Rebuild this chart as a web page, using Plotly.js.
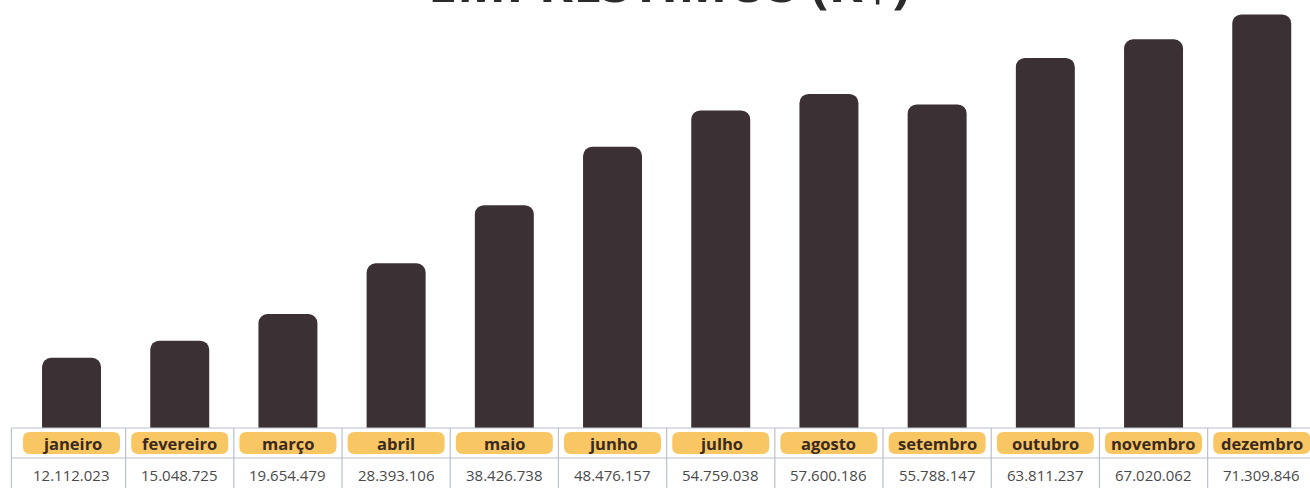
<!DOCTYPE html>
<html>
<head>
<meta charset="utf-8">
<script src="https://cdn.plot.ly/plotly-3.0.1.min.js"></script>
<style>
  html, body { margin: 0; padding: 0; background: #ffffff; }
  #chart { width: 1310px; height: 488px; }
</style>
</head>
<body>
<div id="chart"></div>
<script>
// ---- data ----
var chartTitle = "EMPRÉSTIMOS (R$)";
var months = ["janeiro", "fevereiro", "março", "abril", "maio", "junho",
              "julho", "agosto", "setembro", "outubro", "novembro", "dezembro"];
var loans = [12112023, 15048725, 19654479, 28393106, 38426738, 48476157,
             54759038, 57600186, 55788147, 63811237, 67020062, 71309846];

// ---- helpers ----
function fmtBR(n) {
  var s = String(Math.round(n));
  var out = "";
  while (s.length > 3) {
    out = "." + s.slice(-3) + out;
    s = s.slice(0, -3);
  }
  return s + out;
}

var W = 1310, H = 488, B = 60;
var plotH = H - B;               // plot area height in px
var xr = [-0.661, 11.446];
var pxPerUnit = W / (xr[1] - xr[0]);
function py(px) { return -px / plotH; }   // px below plot bottom -> paper y

var barColor = "#3b3034";
var pillColor = "#f8c662";
var pillText = "#3a2a1f";
var lineColor = "#b9c1cc";

var shapes = [];
var annotations = [];

// table horizontal lines
var xLeft = -0.5 - 6 / pxPerUnit;
[0, py(30)].forEach(function (yy) {
  shapes.push({type: "line", xref: "x", yref: "paper",
    x0: xLeft, x1: xr[1] + 1, y0: yy, y1: yy,
    line: {color: lineColor, width: 1.2}});
});
// table vertical lines
for (var k = 0; k <= months.length; k++) {
  var xv = (k === 0) ? xLeft : k - 0.5;
  shapes.push({type: "line", xref: "x", yref: "paper",
    x0: xv, x1: xv, y0: 0, y1: py(62),
    line: {color: lineColor, width: 1.2}});
}

// pills + labels
var hw = 48.5 / pxPerUnit, rx = 7 / pxPerUnit, ry = 7 / plotH;
var yTop = py(4), yBot = py(26);
months.forEach(function (m, i) {
  var x0 = i - hw, x1 = i + hw;
  var p = "M " + (x0 + rx) + "," + yTop +
          " L " + (x1 - rx) + "," + yTop +
          " Q " + x1 + "," + yTop + " " + x1 + "," + (yTop - ry) +
          " L " + x1 + "," + (yBot + ry) +
          " Q " + x1 + "," + yBot + " " + (x1 - rx) + "," + yBot +
          " L " + (x0 + rx) + "," + yBot +
          " Q " + x0 + "," + yBot + " " + x0 + "," + (yBot + ry) +
          " L " + x0 + "," + (yTop - ry) +
          " Q " + x0 + "," + yTop + " " + (x0 + rx) + "," + yTop + " Z";
  shapes.push({type: "path", xref: "x", yref: "paper", path: p,
    fillcolor: pillColor, line: {width: 0}});
  annotations.push({xref: "x", yref: "paper", x: i, y: py(15),
    xanchor: "center", yanchor: "middle", showarrow: false,
    text: "<b>" + m + "</b>",
    font: {family: "Open Sans, sans-serif", size: 16.5, color: pillText}});
  annotations.push({xref: "x", yref: "paper", x: i, y: py(47),
    xanchor: "center", yanchor: "middle", showarrow: false,
    text: fmtBR(loans[i]),
    font: {family: "Open Sans, sans-serif", size: 15, color: "#4a4a4a"}});
});

// title (partially cropped at top, like the reference)
annotations.push({xref: "paper", yref: "paper", x: 0.511, y: 1 + 18 / plotH,
  xanchor: "center", yanchor: "middle", showarrow: false,
  text: "<b>" + chartTitle + "</b>",
  font: {family: "Open Sans, sans-serif", size: 52, color: "#2b2b2b"}});

var trace = {
  type: "bar",
  x: months,
  y: loans,
  width: 0.545,
  marker: {color: barColor, cornerradius: 9, line: {width: 0}},
  hoverinfo: "skip"
};

var layout = {
  width: W, height: H,
  margin: {l: 0, r: 0, t: 0, b: B, pad: 0},
  paper_bgcolor: "#ffffff",
  plot_bgcolor: "#ffffff",
  showlegend: false,
  xaxis: {type: "category", range: xr, visible: false, fixedrange: true},
  yaxis: {range: [0, 73.8e6], visible: false, fixedrange: true},
  shapes: shapes,
  annotations: annotations
};

Plotly.newPlot("chart", [trace], layout, {displayModeBar: false, staticPlot: true});
</script>
</body>
</html>
